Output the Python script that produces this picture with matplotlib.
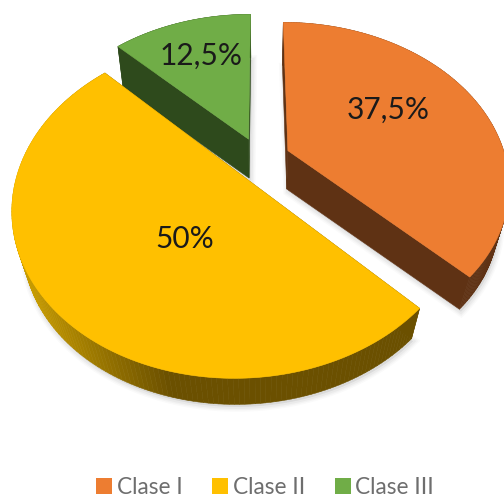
import numpy as np
import matplotlib
matplotlib.use("Agg")
import matplotlib.pyplot as plt
from matplotlib.patches import Polygon, Patch
from matplotlib.collections import PolyCollection

categories = ["Clase I", "Clase II", "Clase III"]
shares = [37.5, 50, 12.5]
share_labels = ["37,5%", "50%", "12,5%"]
top_colors = ["#ED7D31", "#FFC000", "#70AD47"]
cut_colors = ["#5F3214", "#6B5000", "#2E4A1C"]

# 3D view of the disc, in pixels of the picture
OX, OY = 260, 159
FX, FY = 218, 157
PERSP = 0.20
DEPTH_Z = 38
DEPTH_SHRINK = 0.045
EXPLODE = [0.14, 0.13, 0.14]
LABEL_POS = [(388, 110), (185, 238.5), (201, 55.5)]


def project(X, Y, bottom=False):
    X = np.asarray(X, float)
    Y = np.asarray(Y, float)
    w = 1 + PERSP * Y + (DEPTH_SHRINK if bottom else 0)
    sx = OX + FX * X / w
    sy = OY - FY * Y / w + (DEPTH_Z if bottom else 0)
    return np.column_stack([sx, sy])


def rim_color(i, xmid):
    base = np.array(matplotlib.colors.to_rgb(cut_colors[i]))
    if i != 1:
        return base
    light = np.array(matplotlib.colors.to_rgb("#C79B00"))
    t = np.clip((xmid - 30) / 140, 0, 1)
    return light * (1 - t) + base * t


fig = plt.figure(figsize=(5.04, 5.01), dpi=100)
ax = fig.add_axes([0, 0, 1, 1])
ax.set_xlim(0, 504)
ax.set_ylim(501, 0)
ax.axis("off")

edges = np.concatenate([[0], np.cumsum(shares)]) / np.sum(shares) * 2 * np.pi
for i in [2, 0, 1]:
    a0, a1 = edges[i], edges[i + 1]
    mid = (a0 + a1) / 2
    cx, cy = EXPLODE[i] * np.sin(mid), EXPLODE[i] * np.cos(mid)
    t = np.linspace(a0, a1, 160)
    X, Y = cx + np.sin(t), cy + np.cos(t)
    top_rim = project(X, Y)
    bot_rim = project(X, Y, bottom=True)
    apex_t = project([cx], [cy])
    apex_b = project([cx], [cy], bottom=True)

    # soft shadow under the slice
    outline = np.vstack([apex_b, bot_rim])
    for lw, alpha in [(7, 0.04), (5, 0.05), (3, 0.07)]:
        ax.add_patch(Polygon(outline + [1.5, 2.5], closed=True, fc="#808080", ec="#808080",
                             lw=lw, alpha=alpha, zorder=1 + i * 0.01))
    # cut faces
    z = 2 + [1, 2, 0][i]
    for rim_t, rim_b in [(top_rim[0], bot_rim[0]), (top_rim[-1], bot_rim[-1])]:
        ax.add_patch(Polygon(np.vstack([apex_t, [rim_t], [rim_b], apex_b]), closed=True,
                             fc=cut_colors[i], ec=cut_colors[i], lw=0.4, zorder=z))
    # outer rim
    quads = [np.vstack([top_rim[k], top_rim[k + 1], bot_rim[k + 1], bot_rim[k]])
             for k in range(len(t) - 1)]
    cols = [rim_color(i, q[:, 0].mean()) for q in quads]
    ax.add_collection(PolyCollection(quads, facecolors=cols, edgecolors=cols, linewidths=0.4, zorder=z))
    # top face
    ax.add_patch(Polygon(np.vstack([apex_t, top_rim]), closed=True, fc=top_colors[i],
                         ec=top_colors[i], lw=0.4, zorder=z + 0.1))
    ax.text(*LABEL_POS[i], share_labels[i], ha="center", va="center",
            family="Lato", fontsize=21.5, color="#1A1A1A", zorder=10)

handles = [Patch(fc=c, ec="none", label=n) for c, n in zip(top_colors, categories)]
ax.legend(handles=handles, loc="lower left", bbox_to_anchor=(96 / 504, 0.006), ncol=3, frameon=False,
          labelcolor="#6E6E6E", prop={"family": "Lato", "size": 16.3},
          handlelength=0.72, handleheight=0.72, handletextpad=0.2, columnspacing=1.3,
          borderpad=0, borderaxespad=0.0)

fig.savefig("out.png", dpi=100)
